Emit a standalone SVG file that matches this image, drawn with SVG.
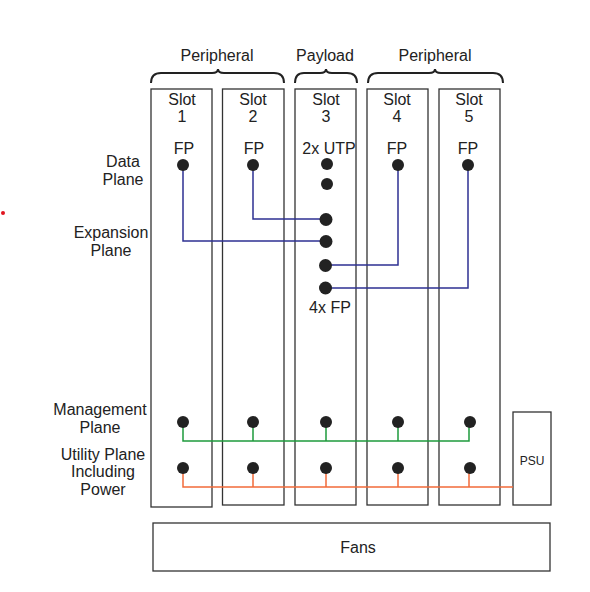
<svg xmlns="http://www.w3.org/2000/svg" width="590" height="592" viewBox="0 0 590 592">
<style>
.box{fill:#fff;stroke:#333;stroke-width:1.3}
.t{font-family:"Liberation Sans",Arial,sans-serif;font-size:16px;fill:#222;text-anchor:middle}
.s{font-size:12px}
.dot{fill:#222}
.br{fill:none;stroke:#222;stroke-width:2}
.blue{fill:none;stroke:#2E3192;stroke-width:1.5}
.green{fill:none;stroke:#1E9A3C;stroke-width:1.5}
.orange{fill:none;stroke:#F26B3A;stroke-width:1.5}
</style>
<rect width="590" height="592" fill="#fff"/>
<circle cx="3" cy="213" r="2" fill="#e0141e"/>
<g id="groups">
<path class="br" d="M151,83 Q151,73 161,73 L212,73 Q218,73 218,69 Q218,73 224,73 L274,73 Q284,73 284,83"/>
<text class="t" x="217" y="61">Peripheral</text>
<path class="br" d="M295,83 Q295,73 304,73 L320,73 Q326,73 326,69 Q326,73 332,73 L347,73 Q357,73 357,83"/>
<text class="t" x="325" y="61">Payload</text>
<path class="br" d="M368,83 Q368,73 378,73 L429,73 Q435,73 435,69 Q435,73 441,73 L493,73 Q503,73 503,83"/>
<text class="t" x="435" y="61">Peripheral</text>
</g>
<g id="labels">
<text class="t" x="123" y="167">Data</text>
<text class="t" x="123" y="185">Plane</text>
<text class="t" x="111" y="238">Expansion</text>
<text class="t" x="111" y="256">Plane</text>
<text class="t" x="100" y="415">Management</text>
<text class="t" x="100" y="433">Plane</text>
<text class="t" x="103" y="460">Utility Plane</text>
<text class="t" x="103" y="477">Including</text>
<text class="t" x="103" y="495">Power</text>
</g>
<g id="slot1">
<rect class="box" x="151" y="89" width="61" height="418"/>
<text class="t" x="182" y="105">Slot</text><text class="t" x="182" y="122">1</text>
<text class="t" x="184" y="154">FP</text>
</g>
<g id="slot2">
<rect class="box" x="222.5" y="89" width="61.5" height="416"/>
<text class="t" x="253" y="105">Slot</text><text class="t" x="253" y="122">2</text>
<text class="t" x="254" y="154">FP</text>
</g>
<g id="slot3">
<rect class="box" x="295" y="89" width="61" height="416"/>
<text class="t" x="326" y="105">Slot</text><text class="t" x="326" y="122">3</text>
<text class="t" x="329" y="154">2x UTP</text>
<text class="t" x="330" y="313">4x FP</text>
</g>
<g id="slot4">
<rect class="box" x="367" y="89" width="61" height="416"/>
<text class="t" x="397" y="105">Slot</text><text class="t" x="397" y="122">4</text>
<text class="t" x="397" y="154">FP</text>
</g>
<g id="slot5">
<rect class="box" x="439" y="89" width="61" height="416"/>
<text class="t" x="469" y="105">Slot</text><text class="t" x="469" y="122">5</text>
<text class="t" x="468" y="154">FP</text>
</g>
<g id="psu">
<rect class="box" x="513" y="412" width="38" height="93"/>
<text class="t s" x="532" y="465">PSU</text>
</g>
<g id="fans">
<rect class="box" x="153" y="523" width="397" height="48"/>
<text class="t" x="358" y="553">Fans</text>
</g>
<g id="connectors">
<path class="blue" d="M183,165 V241 H326"/>
<path class="blue" d="M253,165 V219 H326"/>
<path class="blue" d="M398,165 V265 H326"/>
<path class="blue" d="M468,165 V288 H326"/>
<path class="green" d="M183,422 V441 H469 V422 M253,422 V441 M326,422 V441 M398,422 V441"/>
<path class="orange" d="M183,468 V487 H513 M253,468 V487 M326,468 V487 M398,468 V487 M469,468 V487"/>
</g>
<g id="dots">
<circle class="dot" cx="183" cy="165" r="6"/>
<circle class="dot" cx="253" cy="165" r="6"/>
<circle class="dot" cx="398" cy="165" r="6"/>
<circle class="dot" cx="468" cy="165" r="6"/>
<circle class="dot" cx="327" cy="164" r="6"/>
<circle class="dot" cx="327" cy="184" r="6"/>
<circle class="dot" cx="326" cy="219.5" r="6.5"/>
<circle class="dot" cx="326" cy="241.5" r="6.5"/>
<circle class="dot" cx="325.5" cy="265.5" r="6.5"/>
<circle class="dot" cx="325.5" cy="288" r="6.5"/>
<circle class="dot" cx="183" cy="422" r="6"/>
<circle class="dot" cx="253" cy="422" r="6"/>
<circle class="dot" cx="326" cy="422" r="6"/>
<circle class="dot" cx="398" cy="422" r="6"/>
<circle class="dot" cx="470" cy="422" r="6"/>
<circle class="dot" cx="183" cy="468" r="6"/>
<circle class="dot" cx="253" cy="468" r="6"/>
<circle class="dot" cx="326" cy="468" r="6"/>
<circle class="dot" cx="398" cy="468" r="6"/>
<circle class="dot" cx="470" cy="468" r="6"/>
</g>
</svg>
